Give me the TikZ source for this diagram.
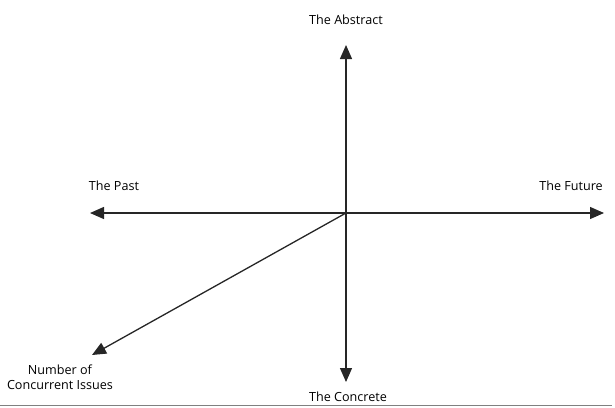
\documentclass[tikz,border=0pt]{standalone}
\usepackage{fontspec}
\setmainfont{Open Sans}
\usetikzlibrary{arrows.meta}

\begin{document}
\begin{tikzpicture}[
    x=1pt, y=-1pt,
    label/.style={font=\fontsize{12.6}{14.5}\selectfont, text=black, align=center, inner sep=0pt},
    axis/.style={-{Triangle[length=14pt,width=12pt]}, line width=1.3pt, draw=black!85}
]
    \useasboundingbox (0,0) rectangle (615,407);

    % centre and arrow ends
    \coordinate (origin) at (346,213);
    \coordinate (up) at (346,45);
    \coordinate (down) at (346,382);
    \coordinate (left) at (90,213);
    \coordinate (right) at (604,213);
    \coordinate (issues) at (92,355);

    % labels
    \node[label] (abstract) at (346,20) {The Abstract};
    \node[label] (concrete) at (348,397) {The Concrete};
    \node[label] (past) at (114,186) {The Past};
    \node[label] (future) at (571,186) {The Future};
    \node[label] (number) at (60,377) {Number of\\Concurrent Issues};

    % axes
    \draw[axis] (origin) -- (up);
    \draw[axis] (origin) -- (down);
    \draw[axis] (origin) -- (left);
    \draw[axis] (origin) -- (right);
    \draw[axis] (origin) -- (issues);

    % rule along the bottom
    \draw[black!50, line width=1.5pt] (0,405.5) -- (612,405.5);
\end{tikzpicture}
\end{document}
